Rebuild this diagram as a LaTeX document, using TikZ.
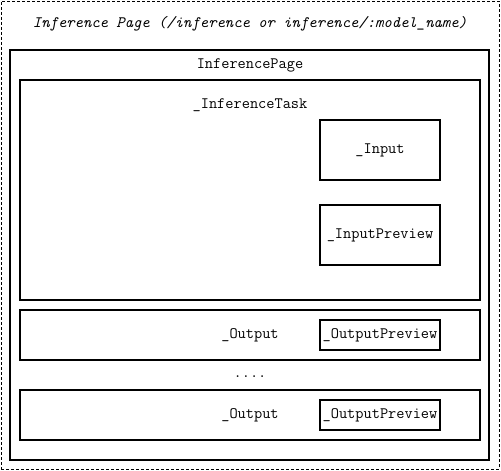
\documentclass[tikz,border=0pt]{standalone}
\usepackage{fontspec}
\begin{document}
\begin{tikzpicture}[x=1pt,y=-1pt,
  box/.style={draw=black,line width=1.4pt,rectangle,inner sep=0pt},
  outerbox/.style={draw=black,line width=1pt,dash pattern=on 3pt off 2pt,inner sep=0pt},
  lbl/.style={inner sep=0pt,font=\ttfamily\fontsize{15.9}{18}\selectfont}
]
\useasboundingbox (0,0) rectangle (501,471);
\node[outerbox,minimum width=498pt,minimum height=468pt] (outer) at (250,235) {};
\node[lbl,font=\ttfamily\fontsize{15.9}{18}\selectfont\itshape] (title) at (250,24) {Inference Page (/inference or inference/:model\_name)};
\node[box,minimum width=479pt,minimum height=410pt] (page) at (249.5,255) {};
\node[lbl] (pagelbl) at (250,65) {InferencePage};
\node[box,minimum width=460pt,minimum height=220pt] (task) at (250,190) {};
\node[lbl] (tasklbl) at (250,105) {\_InferenceTask};
\node[box,lbl,minimum width=120pt,minimum height=60pt] (input) at (380,150) {\_Input};
\node[box,lbl,minimum width=120pt,minimum height=60pt] (inprev) at (380,235) {\_InputPreview};
\node[box,minimum width=460pt,minimum height=50pt] (out1) at (250,335) {};
\node[lbl] (out1lbl) at (250,335) {\_Output};
\node[box,lbl,minimum width=120pt,minimum height=30pt] (outprev1) at (380,335) {\_OutputPreview};
\node[lbl] (dots) at (250,377) {....};
\node[box,minimum width=460pt,minimum height=50pt] (out2) at (250,415) {};
\node[lbl] (out2lbl) at (250,415) {\_Output};
\node[box,lbl,minimum width=120pt,minimum height=30pt] (outprev2) at (380,415) {\_OutputPreview};
\end{tikzpicture}
\end{document}
